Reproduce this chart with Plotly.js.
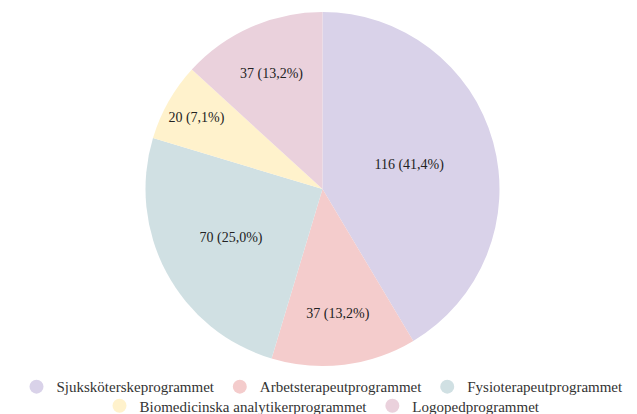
<!DOCTYPE html>
<html>
<head>
<meta charset="utf-8">
<script src="https://cdn.plot.ly/plotly-3.0.1.min.js"></script>
<style>html,body{margin:0;padding:0;background:#fff;}#chart{width:637px;height:414px;}</style>
</head>
<body>
<div id="chart"></div>
<script>
const labels = ["Sjuksköterskeprogrammet", "Arbetsterapeutprogrammet", "Fysioterapeutprogrammet", "Biomedicinska analytikerprogrammet", "Logopedprogrammet"];
const values = [116, 37, 70, 20, 37];
const colors = ["#d9d2e9", "#f4cccc", "#d0e0e3", "#fff2cc", "#ead1dc"];
const legendRow = ["legend", "legend", "legend", "legend2", "legend2"];

const font = "Georgia, 'Liberation Serif', 'DejaVu Serif', serif";

const pie = {
  type: "pie",
  labels: labels,
  values: values,
  sort: false,
  direction: "clockwise",
  rotation: 0,
  marker: {colors: colors, line: {width: 0}},
  texttemplate: "%{value} (%{percent:.1%})",
  textposition: "inside",
  insidetextorientation: "horizontal",
  textfont: {family: font, size: 14, color: "#222222"},
  hoverinfo: "label+value+percent",
  showlegend: false
};

const legendTraces = labels.map((l, i) => ({
  type: "scatter",
  mode: "markers",
  x: [null], y: [null],
  name: l,
  legend: legendRow[i],
  marker: {symbol: "circle", size: 14, color: colors[i]},
  hoverinfo: "skip"
}));

const legendStyle = {orientation: "h", x: 0.5, xanchor: "center", yanchor: "middle",
  font: {family: font, size: 15, color: "#333333"}, itemwidth: 30, bgcolor: "rgba(0,0,0,0)"};

const layout = {
  width: 637, height: 414,
  margin: {l: 8, r: 0, t: 12, b: 48, autoexpand: false},
  paper_bgcolor: "#ffffff",
  plot_bgcolor: "#ffffff",
  separators: ", ",
  font: {family: font, size: 15, color: "#333333"},
  xaxis: {visible: false},
  yaxis: {visible: false},
  showlegend: true,
  legend: Object.assign({}, legendStyle, {y: -0.059}),
  legend2: Object.assign({}, legendStyle, {y: -0.113})
};

Plotly.newPlot("chart", [pie].concat(legendTraces), layout, {displayModeBar: false, staticPlot: true});
</script>
</body>
</html>
